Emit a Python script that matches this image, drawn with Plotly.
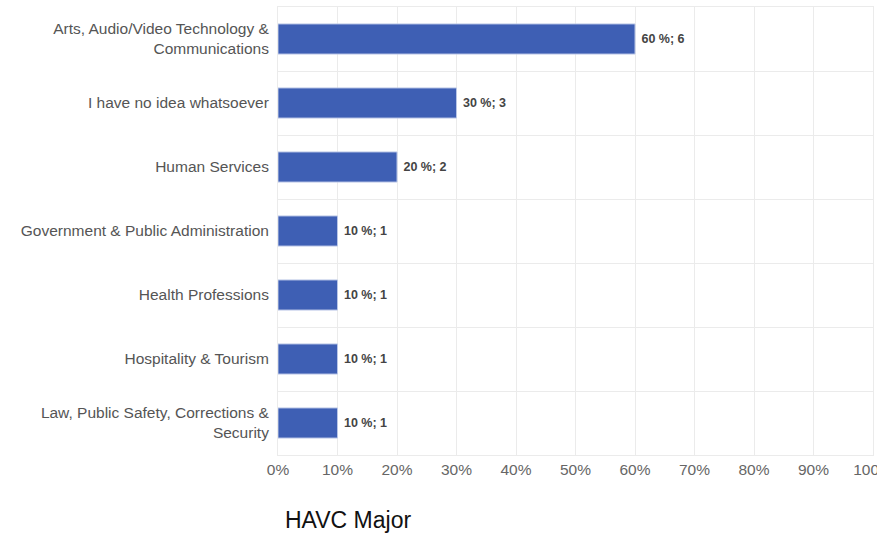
import plotly.graph_objects as go

categories = [
    "Arts, Audio/Video Technology &<br>Communications",
    "I have no idea whatsoever",
    "Human Services",
    "Government & Public Administration",
    "Health Professions",
    "Hospitality & Tourism",
    "Law, Public Safety, Corrections &<br>Security",
]
percents = [60, 30, 20, 10, 10, 10, 10]
counts = [6, 3, 2, 1, 1, 1, 1]
x_tickvals = [0, 10, 20, 30, 40, 50, 60, 70, 80, 90, 100]
x_ticktext = ["0%", "10%", "20%", "30%", "40%", "50%", "60%", "70%", "80%", "90%", "100%"]
title_text = "HAVC Major"

labels = [f" <b>{p} %; {c}</b>" for p, c in zip(percents, counts)]

fig = go.Figure(go.Bar(
    y=categories,
    x=percents,
    orientation="h",
    marker=dict(color="#3E5FB4", line=dict(color="#B9C6E6", width=1)),
    text=labels,
    textposition="outside",
    textfont=dict(size=12.5, color="#444444", family="Liberation Sans, Arial"),
    cliponaxis=False,
))

fig.update_layout(
    width=877, height=537,
    margin=dict(l=278, r=4, t=7, b=82, autoexpand=False),
    paper_bgcolor="white", plot_bgcolor="white",
    font=dict(family="Liberation Sans, Arial", size=15.5, color="#555555"),
    bargap=0.53,
    showlegend=False,
    xaxis=dict(
        range=[0, 100], tickvals=x_tickvals, ticktext=x_ticktext,
        showgrid=True, gridcolor="#EBEBEB", gridwidth=1,
        zeroline=False, showline=True, linecolor="#EBEBEB", mirror=True,
        tickfont=dict(size=15.5, color="#666666"), ticks="", ticklen=0,
        automargin=False, ticklabeloverflow="allow",
    ),
    yaxis=dict(
        autorange="reversed", type="category",
        tickson="boundaries", showgrid=True, gridcolor="#EBEBEB",
        ticks="", showline=True, linecolor="#EBEBEB", mirror=True, zeroline=False,
        tickfont=dict(size=15.5, color="#555555"),
        ticklabelstandoff=5, automargin=False,
    ),
    annotations=[dict(
        text=title_text, xref="paper", yref="paper",
        x=(348 - 278) / (877 - 278 - 4), y=-0.146, xanchor="center", yanchor="middle",
        showarrow=False, font=dict(size=23, color="#111111", family="Liberation Sans, Arial"),
    )],
)

fig.write_html(
    "out.html",
    config={"displayModeBar": False},
    post_script="document.body.style.margin='0';document.body.style.overflow='hidden';",
)
